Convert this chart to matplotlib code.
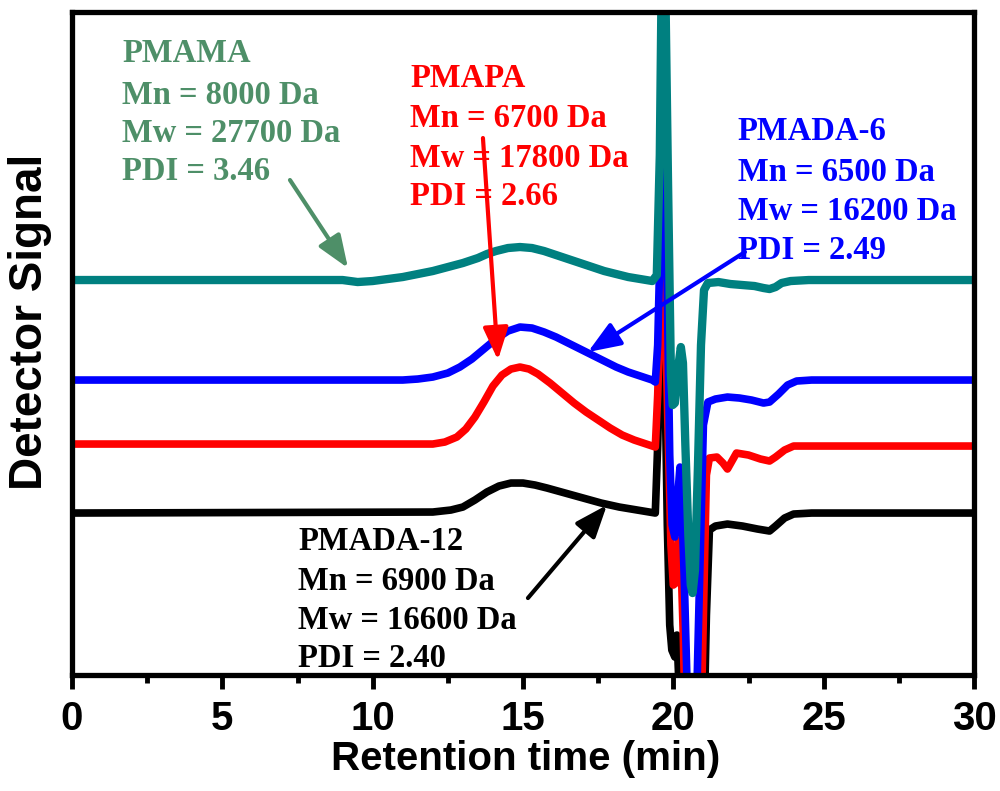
import matplotlib
matplotlib.use("Agg")
import matplotlib.pyplot as plt
from matplotlib.ticker import MultipleLocator

# ---------------- data (retention time in min, detector signal in arbitrary units) -------------
t_pmama = [0, 5, 9.0, 9.5, 10.0, 10.5, 11.0, 11.5, 12.0, 12.5, 13.0, 13.5, 13.8, 14.1, 14.5,
           14.9, 15.3, 15.7, 16.1, 16.5, 16.9, 17.3, 17.7, 18.1, 18.5, 18.9, 19.3,
           19.45, 19.55, 19.62, 19.72, 19.82, 19.92, 19.98, 20.05, 20.15, 20.25, 20.32,
           20.4, 20.5, 20.58, 20.64, 20.72, 20.82, 20.92, 21.02, 21.15, 21.5, 21.9, 22.3,
           22.7, 23.0, 23.2, 23.4, 23.6, 23.9, 24.5, 30]
y_pmama = [395, 395, 395, 393, 394, 396, 398, 401, 404, 408, 412, 417, 421, 424, 427,
           428, 427, 424, 420, 416, 412, 408, 404, 401, 398, 396, 394,
           400, 520, 720, 720, 500, 300, 270, 272, 305, 328, 312,
           230, 140, 90, 82, 105, 210, 330, 385, 392, 393, 391, 390,
           389, 387, 386, 388, 392, 394, 395, 395]

t_pmada6 = [0, 11.0, 11.5, 12.0, 12.5, 12.9, 13.3, 13.7, 14.1, 14.5, 14.9, 15.3, 15.7, 16.1,
            16.5, 16.9, 17.3, 17.7, 18.1, 18.5, 18.9, 19.3, 19.4, 19.48, 19.56, 19.64,
            19.72, 19.8, 19.88, 19.96, 20.05, 20.15, 20.22, 20.28, 20.36, 20.52, 20.73, 21.0,
            21.15, 21.4, 21.8, 22.2, 22.6, 23.0, 23.2, 23.5, 23.8, 24.1, 24.6, 30]
y_pmada6 = [295, 295, 296, 298, 302, 308, 316, 326, 336, 344, 348, 347, 343, 338,
            332, 326, 320, 314, 308, 303, 299, 295, 293, 330, 430, 520,
            520, 380, 220, 150, 138, 180, 208, 170, 100, -80, -80, 250,
            273, 276, 278, 277, 275, 272, 273, 281, 290, 294, 295, 295]

t_pmapa = [0, 12.0, 12.4, 12.8, 13.1, 13.4, 13.7, 14.0, 14.3, 14.6, 14.9, 15.2, 15.5, 15.9,
           16.3, 16.7, 17.1, 17.5, 17.9, 18.3, 18.7, 19.1, 19.4, 19.48, 19.56, 19.64,
           19.72, 19.82, 19.92, 20.0, 20.08, 20.18, 20.25, 20.33, 20.42, 20.9, 21.0, 21.1,
           21.2, 21.45, 21.65, 21.8, 21.95, 22.1, 22.5, 22.9, 23.2, 23.4, 23.7, 24.0, 30]
y_pmapa = [231, 231, 233, 238, 246, 258, 273, 289, 300, 306, 308, 306, 301, 292,
           282, 272, 263, 255, 247, 240, 235, 231, 228, 280, 360, 410,
           380, 250, 130, 90, 92, 135, 120, 40, -80, -80, 60, 200,
           217, 218, 212, 206, 214, 222, 220, 216, 214, 218, 225, 229, 229]

t_pmada12 = [0, 12.0, 12.6, 13.0, 13.4, 13.8, 14.2, 14.6, 15.0, 15.4, 15.8, 16.4, 17.0,
             17.6, 18.2, 18.8, 19.4, 19.48, 19.56, 19.64, 19.72, 19.8, 19.88, 19.95,
             20.05, 20.12, 20.2, 20.3, 21.0, 21.1, 21.2, 21.4, 21.8, 22.3, 22.8, 23.2,
             23.4, 23.7, 24.0, 24.6, 30]
y_pmada12 = [162, 163, 165, 168, 175, 183, 189, 192, 192, 190, 187, 182, 177,
             172, 168, 165, 162, 230, 330, 370, 300, 150, 50, 25,
             18, 40, -20, -80, -80, 60, 145, 149, 151, 149, 146, 144,
             149, 157, 161, 162, 162]

labels_pmama = ["PMAMA", "Mn = 8000 Da", "Mw = 27700 Da", "PDI = 3.46"]
labels_pmapa = ["PMAPA", "Mn = 6700 Da", "Mw = 17800 Da", "PDI = 2.66"]
labels_pmada6 = ["PMADA-6", "Mn = 6500 Da", "Mw = 16200 Da", "PDI = 2.49"]
labels_pmada12 = ["PMADA-12", "Mn = 6900 Da", "Mw = 16600 Da", "PDI = 2.40"]

x_ticks = [0, 5, 10, 15, 20, 25, 30]

# ---------------- styling -------------
c_teal = "#008080"
c_green_txt = "#4E8F68"
c_red = "#FF0000"
c_blue = "#0000FF"
c_black = "#000000"

sans = "Liberation Sans"
serif = "Liberation Serif"

fig = plt.figure(figsize=(10, 7.91), dpi=100)
ax = fig.add_axes([0.072, 0.1466, 0.902, 0.8382])

lw = 5.5
kw = dict(solid_joinstyle="round", solid_capstyle="round")
ax.plot(t_pmada12, y_pmada12, color=c_black, lw=lw, zorder=2, **kw)
ax.plot(t_pmapa, y_pmapa, color=c_red, lw=lw, zorder=3, **kw)
ax.plot(t_pmada6, y_pmada6, color=c_blue, lw=lw, zorder=4, **kw)
ax.plot(t_pmama, y_pmama, color=c_teal, lw=lw + 0.5, zorder=5, **kw)

ax.set_xlim(0, 30)
ax.set_ylim(0, 663)

for s in ax.spines.values():
    s.set_linewidth(3.8)
    s.set_zorder(10)

ax.set_xticks(x_ticks)
ax.xaxis.set_minor_locator(MultipleLocator(2.5))
ax.tick_params(axis="x", which="major", direction="out", length=10, width=3.5, pad=8)
ax.tick_params(axis="x", which="minor", direction="out", length=6, width=3.5)
ax.set_yticks([])
for lab in ax.get_xticklabels():
    lab.set_fontfamily(sans)
    lab.set_fontweight("bold")
    lab.set_fontsize(29)

fig.text(0.526, 0.040, "Retention time (min)", ha="center", va="center",
         fontfamily=sans, fontweight="bold", fontsize=29)
fig.text(0.030, 0.593, "Detector Signal", ha="center", va="center", rotation=90,
         fontfamily=sans, fontweight="bold", fontsize=33)


def px2data(px, py):
    return ((px - 72) / 30.07, 675 - py)


def block(labels, px, pys, color):
    for lab, py in zip(labels, pys):
        x, y = px2data(px, py)
        ax.text(x, y, lab, ha="left", va="center", color=color, fontfamily=serif,
                fontweight="bold", fontsize=23.5, zorder=7)


block(labels_pmama, 122, [53, 95, 133, 171], c_green_txt)
block(labels_pmapa, 410, [78, 118, 158, 196], c_red)
block(labels_pmada6, 738, [131, 172, 211, 250], c_blue)
block(labels_pmada12, 298, [541, 581, 620, 658], c_black)


def arrow(p0, p1, color):
    ax.annotate("", xy=px2data(*p1), xytext=px2data(*p0),
                arrowprops=dict(arrowstyle="-|>,head_length=0.9,head_width=0.35",
                                color=color, lw=3, mutation_scale=22,
                                shrinkA=0, shrinkB=0), zorder=8)


arrow((290, 180), (348, 268), c_green_txt)
arrow((483, 138), (498, 360), c_red)
arrow((745, 252), (588, 352), c_blue)
arrow((528, 598), (607, 505), c_black)

fig.savefig("out.png", dpi=100)
